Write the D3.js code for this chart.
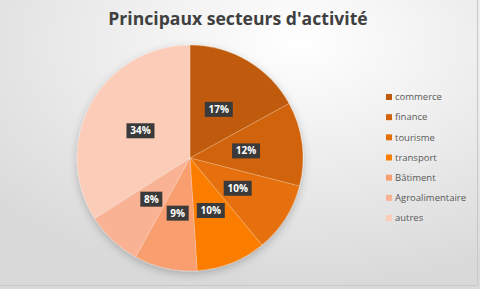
<!DOCTYPE html>
<html>
<head>
<meta charset="utf-8">
<script src="https://cdn.jsdelivr.net/npm/d3@7"></script>
<style>
  html, body { margin: 0; padding: 0; }
  body { width: 480px; height: 289px; overflow: hidden; }
  text { font-family: "Open Sans", "DejaVu Sans", sans-serif; }
</style>
</head>
<body>
<div id="chart"></div>
<script>
// data
const sectors = ["commerce", "finance", "tourisme", "transport", "Bâtiment", "Agroalimentaire", "autres"];
const shares = [17, 12, 10, 10, 9, 8, 34];
const colours = ["#c05a08", "#d2630a", "#e66f08", "#fb7d03", "#f99e6e", "#f9b293", "#fbcdb8"];
const title = "Principaux secteurs d'activité";

const width = 480, height = 289;
const cx = 190, cy = 158, radius = 113;

const svg = d3.select("#chart")
    .append("svg")
    .attr("width", width)
    .attr("height", height);

const defs = svg.append("defs");
const bg = defs.append("radialGradient")
    .attr("id", "bg")
    .attr("cx", "62%").attr("cy", "15%").attr("r", "85%");
bg.append("stop").attr("offset", "0%").attr("stop-color", "#ffffff");
bg.append("stop").attr("offset", "100%").attr("stop-color", "#d9d9d9");

const shadow = defs.append("filter").attr("id", "shadow")
    .attr("x", "-20%").attr("y", "-20%").attr("width", "140%").attr("height", "140%");
shadow.append("feDropShadow")
    .attr("dx", 0).attr("dy", 3).attr("stdDeviation", 4)
    .attr("flood-color", "#000").attr("flood-opacity", 0.22);

svg.append("rect")
    .attr("width", width).attr("height", height)
    .attr("fill", "url(#bg)");
// thin frame line at bottom / right like the screenshot
svg.append("path")
    .attr("d", `M0,${height - 3.5}H${width - 2.5}V0`)
    .attr("fill", "none")
    .attr("stroke", "#c8c8c8")
    .attr("stroke-width", 1);

svg.append("text")
    .attr("x", 238)
    .attr("y", 25)
    .attr("text-anchor", "middle")
    .attr("font-size", 17.6)
    .attr("font-weight", "bold")
    .attr("fill", "#404040")
    .text(title);

const data = sectors.map((s, i) => ({ name: s, value: shares[i], colour: colours[i] }));

const pie = d3.pie().value(d => d.value).sort(null);
const arc = d3.arc().innerRadius(0).outerRadius(radius);
const labelArc = d3.arc().innerRadius(radius * 0.5).outerRadius(radius * 0.5);

const g = svg.append("g").attr("transform", `translate(${cx},${cy})`);

g.append("g")
    .attr("filter", "url(#shadow)")
    .selectAll("path")
    .data(pie(data))
    .join("path")
    .attr("d", arc)
    .attr("fill", d => d.data.colour)
    .attr("stroke", "rgba(255,255,255,0.35)")
    .attr("stroke-width", 0.6);

const labels = g.selectAll(".lbl")
    .data(pie(data))
    .join("g")
    .attr("class", "lbl")
    .attr("transform", d => `translate(${labelArc.centroid(d)})`);

labels.append("rect")
    .attr("x", d => -(d.data.value < 10 ? 11 : 14))
    .attr("y", -7.5)
    .attr("width", d => (d.data.value < 10 ? 22 : 28))
    .attr("height", 15)
    .attr("fill", "#3a3a3a");

labels.append("text")
    .attr("text-anchor", "middle")
    .attr("dy", "0.35em")
    .attr("font-size", 10)
    .attr("font-weight", "bold")
    .attr("fill", "#ffffff")
    .text(d => d.data.value + "%");

// legend
const legendY = d3.scalePoint().domain(sectors).range([97, 218]);

const legend = svg.append("g")
    .selectAll("g")
    .data(data)
    .join("g")
    .attr("transform", d => `translate(386,${legendY(d.name)})`);

legend.append("rect")
    .attr("x", 0).attr("y", -3)
    .attr("width", 6).attr("height", 6)
    .attr("fill", d => d.colour);

legend.append("text")
    .attr("x", 9)
    .attr("dy", "0.35em")
    .attr("font-size", 9.5)
    .attr("fill", "#595959")
    .text(d => d.name);
</script>
</body>
</html>
